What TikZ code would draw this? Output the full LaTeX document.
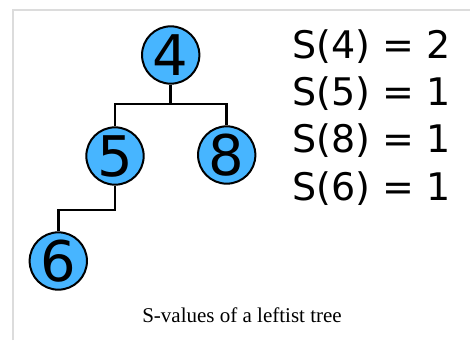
\documentclass[tikz,border=0pt]{standalone}
\usepackage{fontspec}
\setmainfont{Liberation Serif}
\newfontfamily\dejavu{DejaVu Sans}
\definecolor{heapblau}{HTML}{47B5FF}
\definecolor{rahmen}{HTML}{DCDCDC}
\usepackage{tikz}
\usetikzlibrary{positioning}

\begin{document}
\begin{tikzpicture}[
    x=0.75pt, y=-0.75pt,
    key/.style={circle, draw=black, fill=heapblau, line width=1.5pt,
                minimum size=43pt, inner sep=0pt,
                font=\dejavu\fontsize{42}{42}\selectfont},
    sval/.style={anchor=base west, inner sep=0pt,
                 font=\dejavu\fontsize{28.5}{28.5}\selectfont},
    edge/.style={line width=2.2pt, black},
    frame/.style={line width=1.5pt, rahmen}
  ]
  \useasboundingbox (0,0) rectangle (470,340);
  \draw[frame] (12.5,340) |- (470,9.5);

  \node[key] (n4) at (170.7,55) {4};
  \node[key] (n5) at (115,156) {5};
  \node[key] (n8) at (226.7,155) {8};
  \node[key] (n6) at (58.3,261) {6};

  \coordinate (j4) at (170.7,104);
  \coordinate (j5) at (115,210);

  \draw[edge] (n4) -- (j4) -| (n5);
  \draw[edge] (j4) -| (n8);
  \draw[edge] (n5) -- (j5) -| (n6);

  \node[sval] (s4) at (292,58) {S(4) = 2};
  \node[sval] (s5) at (292,105) {S(5) = 1};
  \node[sval] (s8) at (292,152.5) {S(8) = 1};
  \node[sval] (s6) at (292,200) {S(6) = 1};

  \node[anchor=base, inner sep=0pt, font=\fontsize{15.75}{16}\selectfont]
    (caption) at (242,322) {S-values of a leftist tree};
\end{tikzpicture}
\end{document}
